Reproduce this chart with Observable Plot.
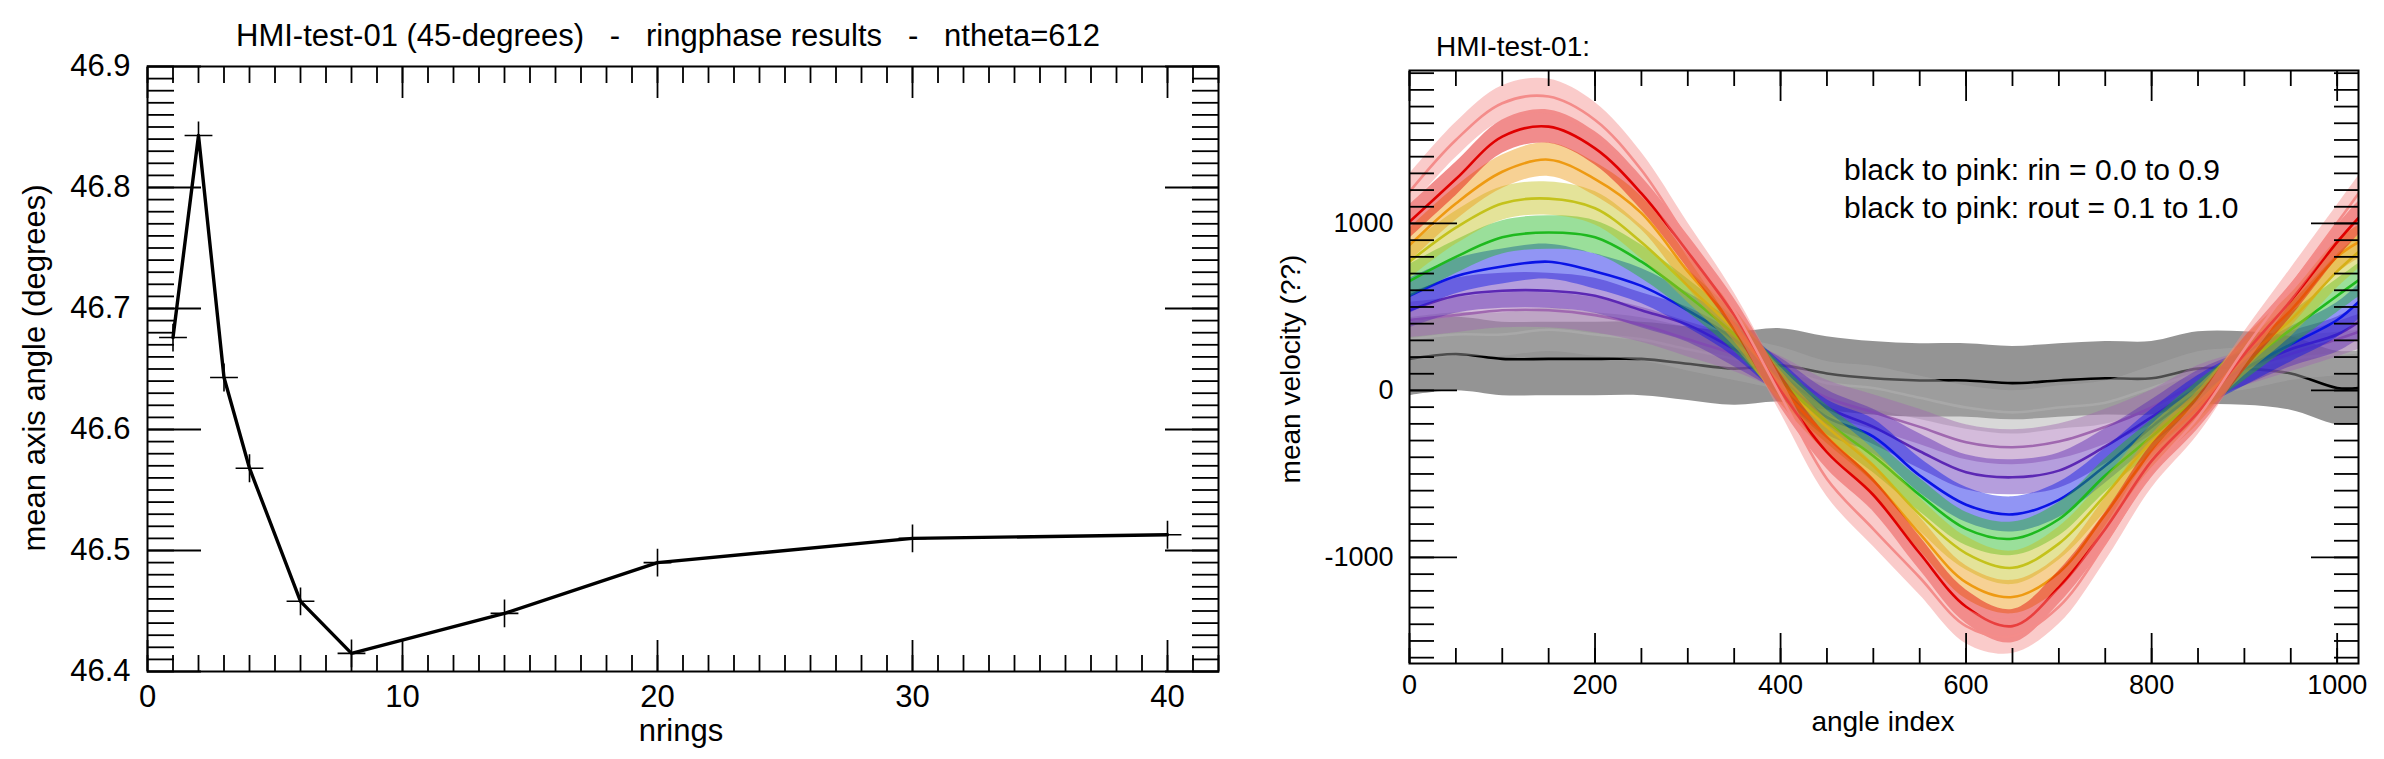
<!DOCTYPE html>
<html><head><meta charset="utf-8">
<script src="https://cdn.jsdelivr.net/npm/d3@7"></script>
<script src="https://cdn.jsdelivr.net/npm/@observablehq/plot@0.6"></script>
<style>
body{margin:0;background:#fff;}
#wrap{position:relative;width:2384px;height:759px;overflow:hidden;background:#fff;font-family:"Liberation Sans",Arial,Helvetica,sans-serif;color:#000;}
.t{position:absolute;white-space:pre;line-height:0.7;}
</style></head><body><div id="wrap"></div>
<script>
// ---------- Left panel data ----------
const leftTitle = "HMI-test-01 (45-degrees)   -   ringphase results   -   ntheta=612";
const leftXLabel = "nrings";
const leftYLabel = "mean axis angle (degrees)";
const nrings = [1, 2, 3, 4, 6, 8, 14, 20, 30, 40];
const axisAngle = [46.676, 46.843, 46.643, 46.568, 46.458, 46.415, 46.448, 46.490, 46.510, 46.513];
const leftXTicks = [0, 10, 20, 30, 40];
const leftXTickLabels = ["0", "10", "20", "30", "40"];
const leftYTicks = [46.4, 46.5, 46.6, 46.7, 46.8, 46.9];
const leftYTickLabels = ["46.4", "46.5", "46.6", "46.7", "46.8", "46.9"];

// ---------- Right panel data ----------
const rightTitle = "HMI-test-01:";
const rightXLabel = "angle index";
const rightYLabel = "mean velocity (??)";
const legendLines = ["black to pink: rin = 0.0 to 0.9", "black to pink: rout = 0.1 to 1.0"];
const seriesNames = ["rin 0.0", "rin 0.1", "rin 0.2", "rin 0.3", "rin 0.4", "rin 0.5", "rin 0.6", "rin 0.7", "rin 0.8", "rin 0.9"];
const seriesColors = ["#000000", "#a8a8a8", "#a068b0", "#5c28b4", "#0a14e6", "#1eb91e", "#c4c21c", "#ee9a12", "#e00000", "#f48c8a"];
const angleIndex = [0, 50, 100, 150, 200, 250, 300, 350, 400, 450, 500, 550, 600, 650, 700, 750, 800, 850, 900, 950, 1000, 1023];
const vBlack  = [189, 218, 189, 189, 189, 189, 160, 131, 150, 102, 73, 60, 60, 44, 60, 73, 73, 131, 131, 102, 15, 15];
const vGray   = [306, 335, 335, 364, 335, 306, 247, 189, 130, 44, 15, -44, -102, -131, -102, -73, 15, 102, 131, 189, 218, 230];
const vLPurp  = [422, 451, 480, 480, 451, 393, 306, 218, 100, -44, -131, -218, -310, -340, -306, -218, -102, 44, 131, 218, 306, 350];
const vDPurp  = [480, 567, 597, 597, 567, 480, 393, 247, 90, -102, -218, -364, -490, -520, -480, -335, -160, 15, 131, 247, 335, 410];
const vBlue   = [567, 684, 742, 771, 713, 626, 480, 306, 70, -160, -276, -509, -684, -742, -655, -451, -218, -15, 131, 276, 422, 530];
const vGreen  = [655, 800, 917, 946, 917, 771, 567, 335, 60, -189, -393, -626, -829, -888, -771, -509, -276, -44, 160, 364, 567, 660];
const vYellow = [771, 975, 1120, 1149, 1091, 888, 626, 364, 40, -218, -451, -742, -975, -1062, -917, -626, -306, -73, 189, 422, 713, 829];
const vOrange = [870, 1120, 1310, 1382, 1266, 1062, 713, 393, 20, -276, -538, -858, -1149, -1237, -1091, -742, -364, -102, 218, 480, 800, 888];
const vRed    = [1010, 1266, 1520, 1580, 1450, 1180, 829, 451, 0, -370, -626, -975, -1295, -1411, -1179, -829, -422, -131, 218, 538, 888, 1033];
const vPink   = [1190, 1500, 1720, 1760, 1620, 1320, 900, 480, -30, -530, -830, -1120, -1411, -1470, -1295, -917, -480, -160, 247, 626, 1004, 1179];
const seriesValues = [vBlack, vGray, vLPurp, vDPurp, vBlue, vGreen, vYellow, vOrange, vRed, vPink];
const seriesSpread = [220, 130, 105, 105, 105, 100, 100, 100, 100, 105]; // half-width of the noisy band
const rightXTicks = [0, 200, 400, 600, 800, 1000];
const rightXTickLabels = ["0", "200", "400", "600", "800", "1000"];
const rightYTicks = [-1000, 0, 1000];
const rightYTickLabels = ["-1000", "0", "1000"];

const FONT = '"Liberation Sans", Arial, Helvetica, sans-serif';
const wrap = document.getElementById("wrap");

function frameTicks(o) {
  // inward IDL-style ticks on all four sides
  const m = [];
  const sw = 1.8;
  m.push(Plot.axisX({anchor: "bottom", ticks: o.xMinor, tickSize: o.xMin, dy: -o.xMin, fill: "none", label: null, strokeWidth: sw}));
  m.push(Plot.axisX({anchor: "bottom", ticks: o.xMajor, tickSize: o.xMaj, dy: -o.xMaj, fill: "none", label: null, strokeWidth: sw}));
  m.push(Plot.axisX({anchor: "top", ticks: o.xMinor, tickSize: o.xMin, dy: o.xMin, fill: "none", label: null, strokeWidth: sw}));
  m.push(Plot.axisX({anchor: "top", ticks: o.xMajor, tickSize: o.xMaj, dy: o.xMaj, fill: "none", label: null, strokeWidth: sw}));
  m.push(Plot.axisY({anchor: "left", ticks: o.yMinor, tickSize: o.yMin, dx: o.yMin, fill: "none", label: null, strokeWidth: sw}));
  m.push(Plot.axisY({anchor: "left", ticks: o.yMajor, tickSize: o.yMaj, dx: o.yMaj, fill: "none", label: null, strokeWidth: sw}));
  m.push(Plot.axisY({anchor: "right", ticks: o.yMinor, tickSize: o.yMin, dx: -o.yMin, fill: "none", label: null, strokeWidth: sw}));
  m.push(Plot.axisY({anchor: "right", ticks: o.yMajor, tickSize: o.yMaj, dx: -o.yMaj, fill: "none", label: null, strokeWidth: sw}));
  return m;
}

// ---------- Left plot ----------
const leftData = nrings.map((n, i) => ({n, a: axisAngle[i]}));
const left = Plot.plot({
  width: 1240, height: 759,
  marginLeft: 147, marginRight: 22, marginTop: 66, marginBottom: 88,
  x: {domain: [0, 42]},
  y: {domain: [46.4, 46.9]},
  style: {fontFamily: FONT, color: "#000", background: "transparent", overflow: "visible"},
  marks: [
    Plot.line(leftData, {x: "n", y: "a", stroke: "#000", strokeWidth: 3.4}),
    Plot.dot(leftData, {x: "n", y: "a", symbol: "plus", r: 9, stroke: "#000", strokeWidth: 1.6}),
    ...frameTicks({xMajor: leftXTicks, xMinor: d3.range(0, 43), yMajor: leftYTicks,
      yMinor: d3.range(0, 51).map(i => 46.4 + i * 0.01), xMaj: 31, xMin: 16, yMaj: 54, yMin: 27}),
    Plot.axisX({anchor: "bottom", ticks: leftXTicks, tickSize: 0, tickPadding: 13, fontSize: 31, label: null,
      tickFormat: d => leftXTickLabels[leftXTicks.indexOf(d)]}),
    Plot.axisY({anchor: "left", ticks: leftYTicks, tickSize: 0, tickPadding: 17, fontSize: 31, label: null,
      tickFormat: d => leftYTickLabels[leftYTicks.indexOf(d)]}),
    Plot.frame({stroke: "#000", strokeWidth: 2})
  ]
});
left.style.position = "absolute"; left.style.left = "0px"; left.style.top = "0px";
wrap.appendChild(left);

// ---------- Right plot ----------
const seriesMarks = [];
seriesValues.forEach((vals, k) => {
  const rows = angleIndex.map((i, j) => ({i, v: vals[j], s: seriesNames[k]}));
  const sp = seriesSpread[k];
  seriesMarks.push(Plot.areaY(rows, {x: "i", y1: d => d.v - sp, y2: d => d.v + sp, fill: seriesColors[k],
    fillOpacity: k === 0 ? 0.42 : 0.45, curve: "catmull-rom", clip: true}));
  seriesMarks.push(Plot.line(rows, {x: "i", y: "v", stroke: seriesColors[k], strokeWidth: 2.6, curve: "catmull-rom", clip: true}));
});
const right = Plot.plot({
  width: 1144, height: 759,
  marginLeft: 169, marginRight: 26, marginTop: 70, marginBottom: 96,
  x: {domain: [0, 1023]},
  y: {domain: [-1635, 1916]},
  style: {fontFamily: FONT, color: "#000", background: "transparent", overflow: "visible"},
  marks: [
    ...seriesMarks,
    ...frameTicks({xMajor: rightXTicks, xMinor: d3.range(0, 1024, 50), yMajor: rightYTicks,
      yMinor: d3.range(-1600, 2000, 100), xMaj: 30, xMin: 15, yMaj: 48, yMin: 25}),
    Plot.axisX({anchor: "bottom", ticks: rightXTicks, tickSize: 0, tickPadding: 11, fontSize: 27, label: null,
      tickFormat: d => rightXTickLabels[rightXTicks.indexOf(d)]}),
    Plot.axisY({anchor: "left", ticks: rightYTicks, tickSize: 0, tickPadding: 16, fontSize: 27, label: null,
      tickFormat: d => rightYTickLabels[rightYTicks.indexOf(d)]}),
    Plot.frame({stroke: "#000", strokeWidth: 2})
  ]
});
right.style.position = "absolute"; right.style.left = "1240px"; right.style.top = "0px";
wrap.appendChild(right);

// ---------- Text ----------
const LH = 0.7;
function txt(s, x, baseline, size, align) {
  const d = document.createElement("div");
  d.className = "t";
  d.textContent = s;
  d.style.fontSize = size + "px";
  d.style.left = x + "px";
  d.style.top = (baseline - (LH / 2 + 0.3465) * size) + "px";
  if (align === "center") d.style.transform = "translateX(-50%)";
  wrap.appendChild(d);
}
function vtxt(s, cx, cy, size) {
  const d = document.createElement("div");
  d.className = "t";
  d.textContent = s;
  d.style.fontSize = size + "px";
  d.style.left = cx + "px";
  d.style.top = cy + "px";
  d.style.transform = "translate(-50%,-50%) rotate(-90deg)";
  wrap.appendChild(d);
}
txt(leftTitle, 236, 47, 31);
txt(leftXLabel, 681, 742, 31, "center");
vtxt(leftYLabel, 35, 368, 31);
txt(rightTitle, 1436, 57, 28);
txt(rightXLabel, 1883, 732, 28, "center");
vtxt(rightYLabel, 1291, 369, 28);
txt(legendLines[0], 1844, 180, 30);
txt(legendLines[1], 1844, 218, 30);
</script></body></html>
